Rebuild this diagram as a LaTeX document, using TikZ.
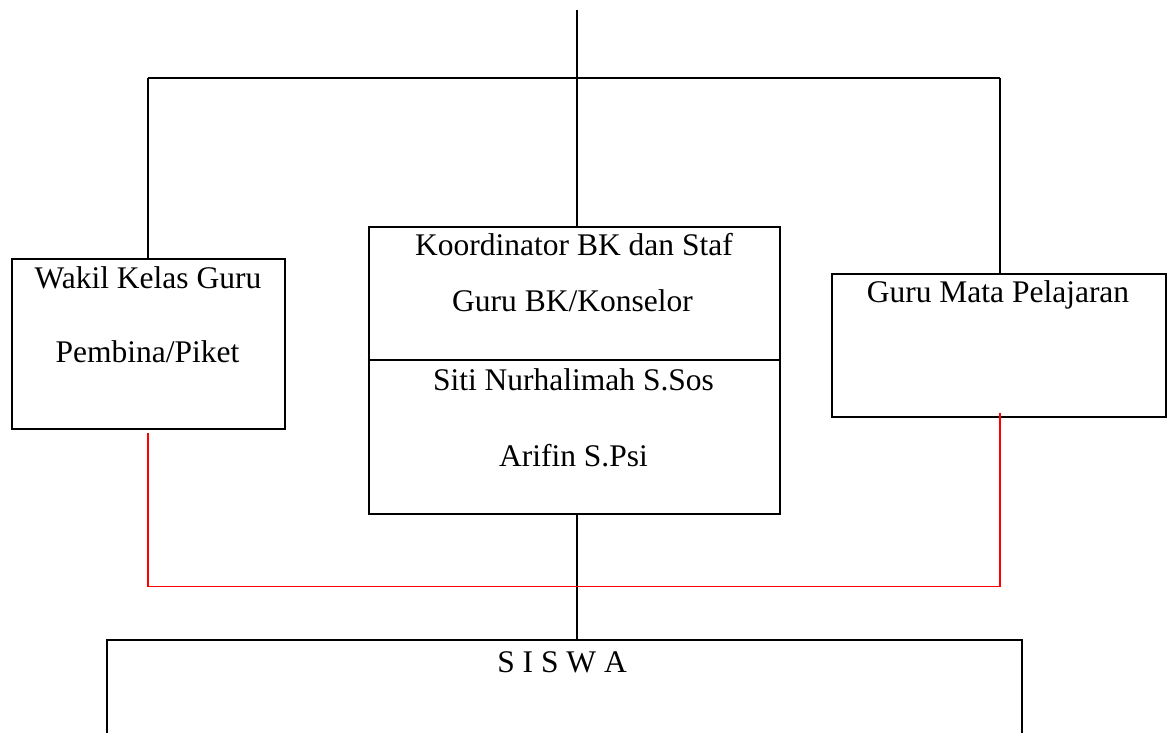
\documentclass[tikz,border=0pt]{standalone}
\usepackage{fontspec}
\setmainfont{Liberation Serif}
\begin{document}
\begin{tikzpicture}[x=1pt,y=-1pt,
  box/.style={draw=black,line width=2pt,rectangle,inner sep=0pt,fill=none},
  conn/.style={draw=black,line width=1.5pt},
  redconn/.style={draw=red,line width=1.6pt},
  lbl/.style={anchor=base,inner sep=0pt,font=\fontsize{31.5}{38}\selectfont}]
\useasboundingbox (0,0) rectangle (1171,732);
\clip (0,0) rectangle (1171,732);
% boxes
\node[box,minimum width=273.5pt,minimum height=169.5pt] (left) at (148.25,343.75) {};
\node[box,minimum width=411.5pt,minimum height=286.5pt] (mid) at (574.25,370.25) {};
\node[box,minimum width=334.5pt,minimum height=143pt] (right) at (998.75,345) {};
\node[box,minimum width=915pt,minimum height=130pt] (siswa) at (564.5,705) {};
\draw[line width=2pt] (mid.west |- 0,360) -- (mid.east |- 0,360);
% texts
\node[lbl] (t1) at (148,288) {Wakil Kelas Guru};
\node[lbl] (t2) at (147.5,362.5) {Pembina/Piket};
\node[lbl] (t3) at (574,255.5) {Koordinator BK dan Staf};
\node[lbl] (t4) at (572.5,311.5) {Guru BK/Konselor};
\node[lbl] (t5) at (573.5,390) {Siti Nurhalimah S.Sos};
\node[lbl] (t6) at (573.5,466) {Arifin S.Psi};
\node[lbl] (t7) at (998,302.5) {Guru Mata Pelajaran};
\node[lbl] (t8) at (562,672) {S I S W A};
% coordinates
\coordinate (top) at (577,10);
\coordinate (hl) at (148,78);
\coordinate (hr) at (1000,78);
\coordinate (rl) at (148,586.5);
\coordinate (rr) at (1000,586.5);
% black connectors
\draw[conn] (top) -- (top |- mid.north);
\draw[conn] (hl) -- (hr);
\draw[conn] (hl) -- (hl |- left.north);
\draw[conn] (hr) -- (hr |- right.north);
\draw[conn] (top |- mid.south) -- (top |- siswa.north);
% red connectors
\draw[redconn] ([yshift=-3.5pt]hl |- left.south) -- (rl) -- (rr) -- ([yshift=4.5pt]hr |- right.south);
\end{tikzpicture}
\end{document}
